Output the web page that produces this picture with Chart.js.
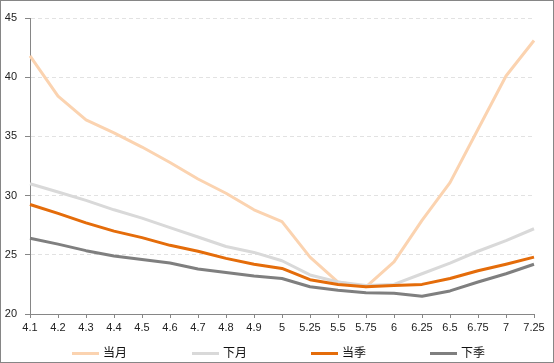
<!DOCTYPE html>
<html>
<head>
<meta charset="utf-8">
<script src="https://cdn.jsdelivr.net/npm/chart.js@4/dist/chart.umd.min.js"></script>
<style>
  body { margin: 0; background: #fff; }
  #wrap { position: relative; width: 554px; height: 363px; }
  #wrap canvas { position: absolute; left: 0; top: 0; }
  #frame { position: absolute; left: 0; top: 0; width: 554px; height: 363px; box-sizing: border-box; border: 1px solid #868686; pointer-events: none; }
  .lg { position: absolute; top: 343px; height: 16px; line-height: 16px; font: 12px "Noto Sans CJK SC", sans-serif; color: #111; white-space: nowrap; }
  .lg i { display: inline-block; width: 27px; height: 3px; vertical-align: middle; margin-right: 4px; }
</style>
</head>
<body>
<div id="wrap">
  <canvas id="chart" width="554" height="363"></canvas>
  <div id="legend"></div>
  <div id="frame"></div>
</div>
<script>
  const categories = ['4.1', '4.2', '4.3', '4.4', '4.5', '4.6', '4.7', '4.8', '4.9', '5',
    '5.25', '5.5', '5.75', '6', '6.25', '6.5', '6.75', '7', '7.25'];

  const curMonth = [41.8, 38.4, 36.4, 35.3, 34.1, 32.8, 31.4, 30.2, 28.8, 27.8,
    24.8, 22.7, 22.3, 24.4, 27.9, 31.1, 35.6, 40.1, 43.1];
  const nextMonth = [31.0, 30.3, 29.6, 28.8, 28.1, 27.3, 26.5, 25.7, 25.2, 24.5,
    23.3, 22.7, 22.4, 22.5, 23.4, 24.3, 25.3, 26.2, 27.2];
  const curSeason = [29.25, 28.5, 27.7, 27.0, 26.45, 25.8, 25.3, 24.7, 24.2, 23.85,
    22.9, 22.5, 22.3, 22.4, 22.5, 23.0, 23.65, 24.2, 24.8];
  const nextSeason = [26.4, 25.9, 25.35, 24.9, 24.6, 24.3, 23.8, 23.5, 23.2, 23.0,
    22.3, 22.0, 21.8, 21.75, 21.5, 21.95, 22.7, 23.4, 24.2];

  const seriesNames = ['当月', '下月', '当季', '下季'];
  const seriesColors = ['#fbd3b0', '#d9d9d9', '#e46c0a', '#7f7f7f'];
  const legendX = [72, 192, 311, 430];

  const axisColor = '#868686';

  Chart.defaults.font.family = '"Liberation Sans", Arial, sans-serif';
  Chart.defaults.font.size = 11;
  Chart.defaults.color = '#222';

  function line(label, data, color, order) {
    return {
      label: label,
      data: data,
      borderColor: color,
      backgroundColor: color,
      borderWidth: 3,
      pointRadius: 0,
      tension: 0,
      borderJoinStyle: 'round',
      order: order
    };
  }

  new Chart(document.getElementById('chart'), {
    type: 'line',
    data: {
      labels: categories,
      datasets: [
        line(seriesNames[0], curMonth, seriesColors[0], 4),
        line(seriesNames[1], nextMonth, seriesColors[1], 3),
        line(seriesNames[2], curSeason, seriesColors[2], 2),
        line(seriesNames[3], nextSeason, seriesColors[3], 1)
      ]
    },
    options: {
      responsive: false,
      animation: false,
      devicePixelRatio: 1,
      layout: { padding: { top: 18, right: 20, bottom: 0, left: 0 } },
      plugins: {
        legend: { display: false },
        tooltip: { enabled: false }
      },
      scales: {
        x: {
          offset: false,
          grid: { drawOnChartArea: false, drawTicks: true, tickLength: 4, color: axisColor },
          border: { color: axisColor, width: 1 },
          ticks: { padding: 3, maxRotation: 0, autoSkip: false },
          afterFit: function(scale) { scale.height = 49; }
        },
        y: {
          min: 20,
          max: 45,
          grid: {
            color: '#e2e2e2',
            tickColor: axisColor,
            tickLength: 5,
            tickBorderDash: []
          },
          border: { color: axisColor, width: 1, dash: [4, 3] },
          ticks: { stepSize: 5, padding: 8 },
          afterFit: function(scale) { scale.width = 30; }
        }
      }
    }
  });

  const legend = document.getElementById('legend');
  seriesNames.forEach(function(name, i) {
    const item = document.createElement('div');
    item.className = 'lg';
    item.style.left = legendX[i] + 'px';
    item.innerHTML = '<i style="background:' + seriesColors[i] + '"></i>' + name;
    legend.appendChild(item);
  });
</script>
</body>
</html>
